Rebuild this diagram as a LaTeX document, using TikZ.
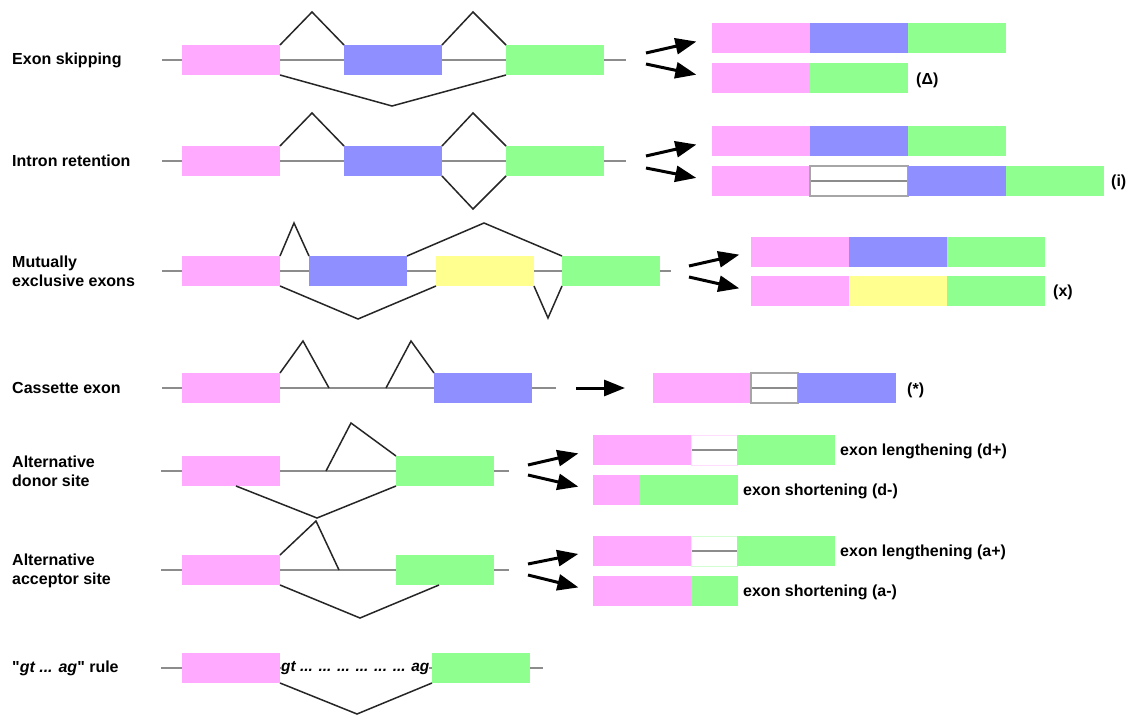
\documentclass[tikz,border=0pt]{standalone}
\usepackage{fontspec}
\setmainfont{Liberation Sans}[Ligatures=TeXOff]
\usetikzlibrary{arrows.meta}
\definecolor{exonpink}{RGB}{255,170,255}
\definecolor{exonblue}{RGB}{143,143,255}
\definecolor{exongreen}{RGB}{143,255,143}
\definecolor{exonyellow}{RGB}{255,255,143}
\definecolor{introngray}{RGB}{140,140,140}
\newcommand{\lab}{\fontsize{16}{19}\selectfont\bfseries}

\begin{document}
\begin{tikzpicture}[x=1pt,y=-1pt,
  exon/.style={minimum width=98pt,minimum height=30pt,inner sep=0pt,outer sep=0pt,anchor=west},
  pk/.style={exon,fill=exonpink},
  bl/.style={exon,fill=exonblue},
  gn/.style={exon,fill=exongreen},
  yl/.style={exon,fill=exonyellow},
  gap/.style={exon,fill=white,line width=0.8pt,path picture={\draw[introngray,line width=2pt] (path picture bounding box.west) -- (path picture bounding box.east);}},
  gapbox/.style={gap,draw=black!35,line width=1.2pt},
  intron/.style={introngray,line width=2pt},
  splice/.style={black!85,line width=1.5pt},
  fwd/.style={line width=3pt,-{Triangle[length=21pt,width=16pt]},shorten >=16pt},
  lbl/.style={anchor=west,inner sep=0pt,align=left,font=\lab}]
\path[use as bounding box,fill=white] (0,0) rectangle (1133,715);

% exon skipping
\node[lbl] (la) at (12,60) {Exon skipping};
\coordinate (a0) at (162,60); \coordinate (a9) at (626,60);
\draw[intron] (a0) -- (a9);
\node[pk] (a1) at (182,60) {}; \node[bl] (a2) at (344,60) {}; \node[gn] (a3) at (506,60) {};
\draw[splice] (a1.north east) -- ++(32,-33) -- (a2.north west);
\draw[splice] (a2.north east) -- ++(31,-33) -- (a3.north west);
\draw[splice] (a1.south east) -- ++(112,31) -- (a3.south west);
\coordinate (sa1) at (646,53); \coordinate (sa2) at (646,64);
\node[pk] (ra1) at (712,38) {}; \node[bl] (ra2) at (810,38) {}; \node[gn] (ra3) at (908,38) {};
\node[pk] (ra4) at (712,78) {}; \node[gn] (ra5) at (810,78) {};
\node[lbl] (ta) at (916,80) {(Δ)};
\draw[fwd] (sa1) -- (ra1.west);
\draw[fwd] (sa2) -- (ra4.west);

% intron retention
\node[lbl] (lb) at (12,161) {Intron retention};
\coordinate (b0) at (162,161); \coordinate (b9) at (626,161);
\draw[intron] (b0) -- (b9);
\node[pk] (b1) at (182,161) {}; \node[bl] (b2) at (344,161) {}; \node[gn] (b3) at (506,161) {};
\draw[splice] (b1.north east) -- ++(32,-33) -- (b2.north west);
\draw[splice] (b2.north east) -- ++(31,-33) -- (b3.north west);
\draw[splice] (b2.south east) -- ++(31,33) -- (b3.south west);
\coordinate (sb1) at (646,156); \coordinate (sb2) at (646,168);
\node[pk] (rb1) at (712,141) {}; \node[bl] (rb2) at (810,141) {}; \node[gn] (rb3) at (908,141) {};
\node[pk] (rb4) at (712,181) {}; \node[gapbox] (rb5) at (810,181) {};
\node[bl] (rb6) at (908,181) {}; \node[gn] (rb7) at (1006,181) {};
\node[lbl] (tb) at (1111,182) {(i)};
\draw[fwd] (sb1) -- (rb1.west);
\draw[fwd] (sb2) -- (rb4.west);

% mutually exclusive exons
\node[lbl] (lc) at (12,271) {Mutually\\exclusive exons};
\coordinate (c0) at (162,271); \coordinate (c9) at (671,271);
\draw[intron] (c0) -- (c9);
\node[pk] (c1) at (182,271) {}; \node[bl] (c2) at (309,271) {};
\node[yl] (c3) at (436,271) {}; \node[gn] (c4) at (562,271) {};
\draw[splice] (c1.north east) -- ++(14,-33) -- (c2.north west);
\draw[splice] (c2.north east) -- ++(77,-33) -- (c4.north west);
\draw[splice] (c1.south east) -- ++(78,33) -- (c3.south west);
\draw[splice] (c3.south east) -- ++(14,32) -- (c4.south west);
\coordinate (sc1) at (689,266); \coordinate (sc2) at (689,277);
\node[pk] (rc1) at (751,252) {}; \node[bl] (rc2) at (849,252) {}; \node[gn] (rc3) at (947,252) {};
\node[pk] (rc4) at (751,291) {}; \node[yl] (rc5) at (849,291) {}; \node[gn] (rc6) at (947,291) {};
\node[lbl] (tc) at (1053,292) {(x)};
\draw[fwd,shorten >=12pt] (sc1) -- (rc1.west);
\draw[fwd,shorten >=12pt] (sc2) -- (rc4.west);

% cassette exon
\node[lbl] (ld) at (12,388) {Cassette exon};
\coordinate (d0) at (162,388); \coordinate (d9) at (556,388);
\draw[intron] (d0) -- (d9);
\node[pk] (d1) at (182,388) {}; \node[bl] (d2) at (434,388) {};
\coordinate (d7) at (329,388); \coordinate (d8) at (386,388);
\draw[splice] (d1.north east) -- ++(23,-32) -- (d7);
\draw[splice] (d8) -- ++(25,-47) -- (d2.north west);
\coordinate (sd1) at (576,388);
\node[pk] (rd1) at (653,388) {}; \node[gapbox,minimum width=47pt] (rd2) at (751,388) {};
\node[bl] (rd3) at (798,388) {};
\node[lbl] (td) at (907,390) {(*)};
\draw[fwd,shorten >=28pt] (sd1) -- (rd1.west);

% alternative donor site
\node[lbl] (le) at (12,471) {Alternative\\donor site};
\coordinate (e0) at (161,471); \coordinate (e9) at (509,471);
\draw[intron] (e0) -- (e9);
\node[pk] (e1) at (182,471) {}; \node[gn] (e2) at (396,471) {};
\coordinate (e7) at (326,471); \coordinate (e8) at (236,486);
\draw[splice] (e7) -- ++(25,-48) -- (e2.north west);
\draw[splice] (e8) -- ++(81,32) -- (e2.south west);
\coordinate (se1) at (528,465); \coordinate (se2) at (528,475);
\node[pk] (re1) at (593,450) {}; \node[gap,draw=exonpink!40,minimum width=46pt] (re2) at (691,450) {};
\node[gn] (re3) at (737,450) {};
\node[pk,minimum width=47pt] (re4) at (593,490) {}; \node[gn] (re5) at (640,490) {};
\node[lbl] (te1) at (840,451) {exon lengthening (d+)};
\node[lbl] (te2) at (743,491) {exon shortening (d-)};
\draw[fwd,shorten >=15pt] (se1) -- (re1.west);
\draw[fwd,shorten >=15pt] (se2) -- (re4.west);

% alternative acceptor site
\node[lbl] (lf) at (12,571) {Alternative\\acceptor site};
\coordinate (f0) at (161,570); \coordinate (f9) at (509,570);
\draw[intron] (f0) -- (f9);
\node[pk] (f1) at (182,570) {}; \node[gn] (f2) at (396,570) {};
\coordinate (f7) at (339,570); \coordinate (f8) at (439,585);
\draw[splice] (f1.north east) -- ++(36,-34) -- (f7);
\draw[splice] (f1.south east) -- ++(80,33) -- (f8);
\coordinate (sf1) at (528,564); \coordinate (sf2) at (528,575);
\node[pk] (rf1) at (593,551) {}; \node[gap,draw=exongreen!40,minimum width=46pt] (rf2) at (691,551) {};
\node[gn] (rf3) at (737,551) {};
\node[pk] (rf4) at (593,591) {}; \node[gn,minimum width=47pt] (rf5) at (691,591) {};
\node[lbl] (tf1) at (840,552) {exon lengthening (a+)};
\node[lbl] (tf2) at (743,592) {exon shortening (a-)};
\draw[fwd,shorten >=15pt] (sf1) -- (rf1.west);
\draw[fwd,shorten >=15pt] (sf2) -- (rf4.west);

% gt ... ag rule
\node[lbl] (lg) at (12,668) {"\textit{gt ... ag}" rule};
\coordinate (g0) at (161,668); \coordinate (g9) at (543,668);
\draw[intron] (g0) -- (g9);
\node[pk] (g1) at (182,668) {}; \node[gn] (g2) at (432,668) {};
\node[lbl,fill=white,font=\fontsize{15.4}{19}\selectfont\bfseries\itshape] (g3) at (281,668) {gt ... ... ... ... ... ... ag};
\draw[splice] (g1.south east) -- ++(77,31) -- (g2.south west);
\end{tikzpicture}
\end{document}
